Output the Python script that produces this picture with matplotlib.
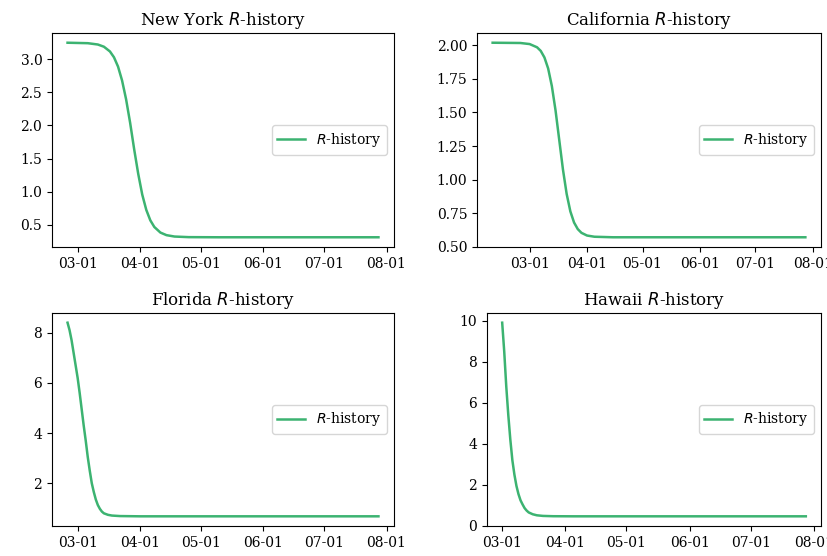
import matplotlib
matplotlib.use("Agg")
import matplotlib.pyplot as plt
import matplotlib.dates as mdates
import pandas as pd

plt.rcParams['font.family'] = ['DejaVu Serif']

# -----------------------------
# data
# -----------------------------
ny_dates = ["2020-02-25", "2020-03-06", "2020-03-11", "2020-03-14", "2020-03-17",
            "2020-03-19", "2020-03-21", "2020-03-23", "2020-03-25", "2020-03-27",
            "2020-03-29", "2020-03-31", "2020-04-02", "2020-04-04", "2020-04-06",
            "2020-04-08", "2020-04-11", "2020-04-14", "2020-04-18", "2020-04-25",
            "2020-05-10", "2020-07-28"]
ny_r = [3.25, 3.243, 3.223, 3.19, 3.118, 3.03, 2.89, 2.68, 2.395, 2.04,
        1.64, 1.27, 0.955, 0.724, 0.566, 0.465, 0.381, 0.342, 0.321, 0.312,
        0.31, 0.31]

ca_dates = ["2020-02-10", "2020-02-25", "2020-03-01", "2020-03-05", "2020-03-07",
            "2020-03-09", "2020-03-11", "2020-03-13", "2020-03-15", "2020-03-17",
            "2020-03-19", "2020-03-21", "2020-03-23", "2020-03-25", "2020-03-27",
            "2020-03-29", "2020-04-01", "2020-04-05", "2020-04-15", "2020-07-28"]
ca_r = [2.02, 2.018, 2.01, 1.986, 1.959, 1.91, 1.828, 1.697, 1.515, 1.295,
        1.075, 0.893, 0.763, 0.68, 0.631, 0.603, 0.583, 0.574, 0.57, 0.57]

fl_dates = ["2020-02-25", "2020-02-26", "2020-02-27", "2020-02-28", "2020-02-29",
            "2020-03-01", "2020-03-02", "2020-03-03", "2020-03-04", "2020-03-05",
            "2020-03-06", "2020-03-07", "2020-03-08", "2020-03-09", "2020-03-10",
            "2020-03-11", "2020-03-12", "2020-03-13", "2020-03-14", "2020-03-16",
            "2020-03-18", "2020-03-22", "2020-04-01", "2020-07-28"]
fl_r = [8.4, 8.1, 7.7, 7.2, 6.7, 6.2, 5.6, 4.95, 4.3, 3.7,
        3.05, 2.5, 2.0, 1.65, 1.35, 1.13, 0.98, 0.87, 0.80, 0.74,
        0.71, 0.69, 0.68, 0.68]

hi_dates = ["2020-03-01", "2020-03-02", "2020-03-03", "2020-03-04", "2020-03-05",
            "2020-03-06", "2020-03-07", "2020-03-08", "2020-03-09", "2020-03-10",
            "2020-03-11", "2020-03-12", "2020-03-13", "2020-03-14", "2020-03-16",
            "2020-03-18", "2020-03-21", "2020-03-26", "2020-04-05", "2020-07-28"]
hi_r = [9.9, 8.5, 6.8, 5.4, 4.2, 3.2, 2.5, 1.95, 1.55, 1.25,
        1.05, 0.87, 0.75, 0.66, 0.57, 0.52, 0.49, 0.475, 0.47, 0.47]

states = ["New York", "California", "Florida", "Hawaii"]
series = [(ny_dates, ny_r), (ca_dates, ca_r), (fl_dates, fl_r), (hi_dates, hi_r)]

# -----------------------------
# plot
# -----------------------------
fig = plt.figure(figsize=(8.28, 5.56), dpi=100)
W, H = 828, 556
# axes boxes in pixels: left, top, right, bottom
boxes = [(52, 33, 394, 247), (477, 33, 821, 247),
         (52, 313, 394, 526), (487, 313, 821, 526)]

for (l, t, r, b), name, (d, v) in zip(boxes, states, series):
    ax = fig.add_axes([l / W, 1 - b / H, (r - l) / W, (b - t) / H])
    ax.plot(pd.to_datetime(d), v, color="#3cb371", lw=1.8, label="$R$-history")
    ax.set_title(f"{name} $R$-history")
    ax.xaxis.set_major_locator(mdates.MonthLocator())
    ax.xaxis.set_major_formatter(mdates.DateFormatter("%m-%d"))
    ax.legend(loc="center right")

fig.savefig("out.png", dpi=100)
